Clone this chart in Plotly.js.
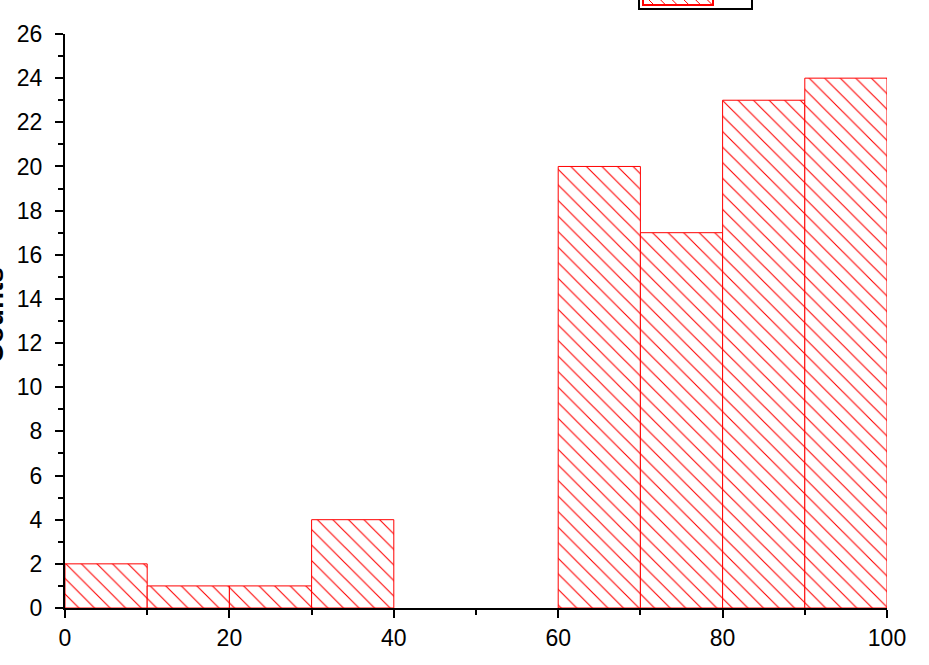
<!DOCTYPE html>
<html>
<head>
<meta charset="utf-8">
<script src="https://cdn.plot.ly/plotly-3.0.1.min.js"></script>
<style>html,body{margin:0;padding:0;background:#fff;}#chart{width:929px;height:665px;}</style>
</head>
<body>
<div id="chart"></div>
<script>
const binStarts = [0, 10, 20, 30, 40, 50, 60, 70, 80, 90];
const binWidth = 10;
const counts = [2, 1, 1, 4, 0, 0, 20, 17, 23, 24];
const yTicks = [0, 2, 4, 6, 8, 10, 12, 14, 16, 18, 20, 22, 24, 26];
const xTicks = [0, 20, 40, 60, 80, 100];
const yTitle = 'Counts';

const centers = binStarts.map(s => s + binWidth / 2);

const trace = {
  type: 'bar',
  x: centers,
  y: counts,
  width: binStarts.map(() => binWidth),
  name: ' ',
  marker: {
    color: 'white',
    line: {color: 'red', width: counts.map(c => c > 0 ? 1 : 0)},
    pattern: {shape: '\\', fgcolor: 'red', bgcolor: 'white', size: 11, solidity: 0.1}
  },
  hoverinfo: 'x+y'
};

const fontFam = 'Arial, "Liberation Sans", sans-serif';

const M = {l: 65, r: 42, t: 34, b: 57};
const PW = 929 - M.l - M.r, PH = 665 - M.t - M.b;
const px = v => (v - M.l) / PW;
const py = v => (665 - M.b - v) / PH;
const shapes = [
  {type: 'rect', xref: 'paper', yref: 'paper', x0: px(639), x1: px(752), y0: py(9), y1: py(-30),
   line: {color: 'black', width: 2}, fillcolor: 'white', layer: 'above'},
  {type: 'rect', xref: 'paper', yref: 'paper', x0: px(643), x1: px(713), y0: py(5), y1: py(-30),
   line: {color: 'red', width: 2}, fillcolor: 'white', layer: 'above'}
];
for (let x = 648; x < 708; x += 11.7) {
  shapes.push({type: 'line', xref: 'paper', yref: 'paper', x0: px(x), x1: px(x + 5), y0: py(-1), y1: py(4),
    line: {color: 'red', width: 1}, layer: 'above'});
}

const layout = {
  width: 929, height: 665,
  margin: {l: M.l, r: M.r, t: M.t, b: M.b, autoexpand: false},
  paper_bgcolor: 'white', plot_bgcolor: 'white',
  showlegend: false,
  bargap: 0,
  shapes: shapes,
  annotations: [{
    text: '<b>' + yTitle + '</b>', xref: 'paper', yref: 'paper',
    x: px(10), y: py(316), xanchor: 'right', yanchor: 'middle', textangle: -90,
    showarrow: false, font: {family: fontFam, size: 28, color: 'black'}
  }],
  xaxis: {
    range: [0, 100], tickvals: xTicks, ticktext: xTicks.map(String),
    showgrid: false, zeroline: false, showline: true, linecolor: 'black', linewidth: 2,
    ticks: 'outside', ticklen: 8, tickwidth: 2, tickcolor: 'black',
    minor: {dtick: 10, tick0: 0, ticks: 'outside', ticklen: 5, tickwidth: 2, tickcolor: 'black'},
    tickfont: {family: fontFam, size: 23, color: 'black'},
    fixedrange: true
  },
  yaxis: {
    range: [0, 26], tickvals: yTicks, ticktext: yTicks.map(String),
    showgrid: false, zeroline: false, showline: true, linecolor: 'black', linewidth: 2,
    ticks: 'outside', ticklen: 8, tickwidth: 2, tickcolor: 'black',
    ticklabelstandoff: 8,
    minor: {dtick: 1, tick0: 0, ticks: 'outside', ticklen: 5, tickwidth: 2, tickcolor: 'black'},
    tickfont: {family: fontFam, size: 23, color: 'black'},
    fixedrange: true
  }
};

Plotly.newPlot('chart', [trace], layout, {displayModeBar: false, staticPlot: true});
</script>
</body>
</html>
